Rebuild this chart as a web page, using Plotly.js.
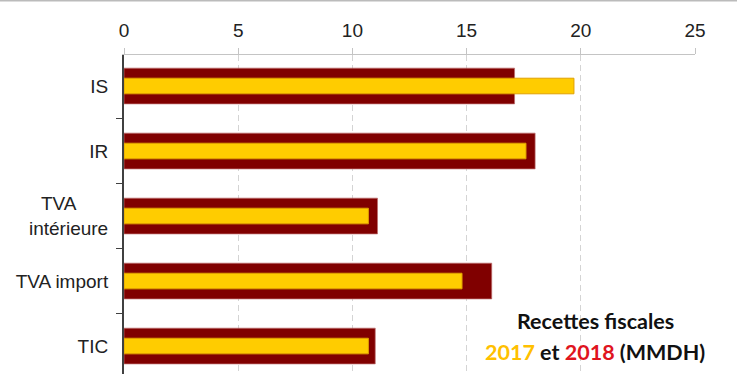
<!DOCTYPE html>
<html>
<head>
<meta charset="utf-8">
<script src="https://cdn.plot.ly/plotly-3.0.1.min.js"></script>
<style>html,body{margin:0;padding:0;background:#fff;}#chart{width:737px;height:374px;}</style>
</head>
<body>
<div id="chart"></div>
<script>
var categories = ["IS", "IR", "TVA\u00a0\u00a0\u00a0\u00a0\u00a0\u00a0<br>intérieure", "TVA import", "TIC"];
var values2018 = [17.1, 18.0, 11.1, 16.1, 11.0];
var values2017 = [19.7, 17.6, 10.7, 14.8, 10.7];
var xTicks = [0, 5, 10, 15, 20, 25];

var traces = [
  {
    type: "bar", orientation: "h", name: "2018",
    y: categories, x: values2018, width: 0.55,
    marker: {color: "#800000", line: {color: "rgba(190,110,110,0.7)", width: 1}},
    hoverinfo: "x"
  },
  {
    type: "bar", orientation: "h", name: "2017",
    y: categories, x: values2017, width: 0.24,
    marker: {color: "#ffcc00", line: {color: "#e0a000", width: 1}},
    hoverinfo: "x"
  }
];

var layout = {
  width: 737, height: 374,
  margin: {l: 123.5, r: 42, t: 55, b: 0, pad: 0},
  paper_bgcolor: "#ffffff", plot_bgcolor: "#ffffff",
  barmode: "overlay",
  showlegend: false,
  font: {family: "Liberation Sans, Arial, sans-serif", size: 19, color: "#222"},
  xaxis: {
    side: "top", range: [0, 25], tickvals: xTicks, ticktext: xTicks.map(String),
    showline: true, linecolor: "#c4c4c4", linewidth: 1,
    ticks: "outside", ticklen: 6, tickcolor: "#c4c4c4",
    ticklabelstandoff: 3,
    showgrid: true, gridcolor: "#d4d4d4", griddash: "6px,4px", gridwidth: 1,
    zeroline: false, fixedrange: true
  },
  yaxis: {
    type: "category", range: [4.43, -0.477],
    showline: true, linecolor: "#404040", linewidth: 2,
    ticks: "outside", tickson: "boundaries", ticklen: 6, tickcolor: "#404040",
    ticklabelstandoff: 10,
    showgrid: false, zeroline: false, fixedrange: true
  },
  shapes: [
    {type: "line", xref: "paper", yref: "paper", x0: -0.3, x1: 1.1, y0: 1.1708, y1: 1.1708,
     line: {color: "#bbbbbb", width: 2}}
  ],
  annotations: [
    {xref: "paper", yref: "paper", x: 0.825, y: 0.167, xanchor: "center", yanchor: "middle",
     showarrow: false, text: "<b>Recettes fiscales</b>",
     font: {family: "Lato, Open Sans, sans-serif", size: 21.5, color: "#111"}},
    {xref: "paper", yref: "paper", x: 0.825, y: 0.07, xanchor: "center", yanchor: "middle",
     showarrow: false,
     text: "<b><span style='color:#ffc000'>2017</span> et <span style='color:#e0141e'>2018</span> (MMDH)</b>",
     font: {family: "Lato, Open Sans, sans-serif", size: 21.5, color: "#111"}}
  ]
};

Plotly.newPlot("chart", traces, layout, {displayModeBar: false, staticPlot: true});
</script>
</body>
</html>
